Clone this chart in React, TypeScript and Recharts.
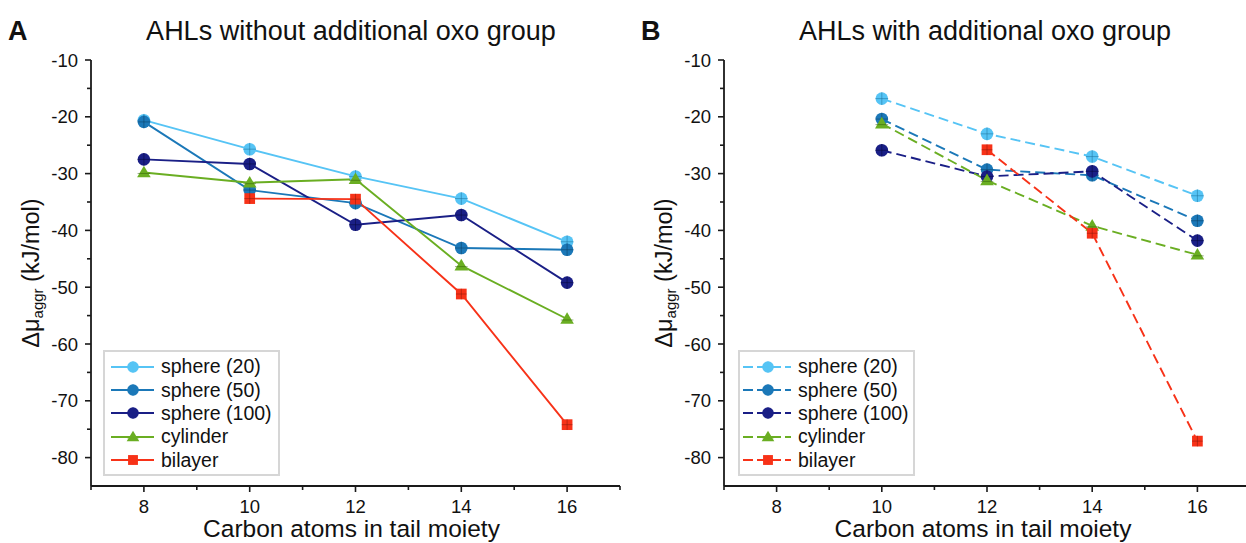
import React from 'react';
import { LineChart, Line, XAxis, YAxis, Legend } from 'recharts';

// panel A: AHLs without additional oxo group
const carbonA = [8, 10, 12, 14, 16];
const sphere20A = [-20.6, -25.7, -30.5, -34.4, -42.0];
const sphere50A = [-20.9, -32.9, -35.2, -43.1, -43.4];
const sphere100A = [-27.5, -28.3, -39.0, -37.3, -49.2];
const cylinderA = [-29.8, -31.6, -31.0, -46.2, -55.6];
const bilayerA = [null, -34.4, -34.5, -51.2, -74.2];

// panel B: AHLs with additional oxo group
const carbonB = [10, 12, 14, 16];
const sphere20B = [-16.8, -23.0, -27.0, -33.9];
const sphere50B = [-20.4, -29.3, -30.3, -38.3];
const sphere100B = [-25.9, -30.5, -29.6, -41.8];
const cylinderB = [-21.2, -31.2, -39.2, -44.3];
const bilayerB = [null, -25.8, -40.5, -77.1];

const xTicks = [7, 8, 9, 10, 11, 12, 13, 14, 15, 16, 17];
const yTicks = [-80, -75, -70, -65, -60, -55, -50, -45, -40, -35, -30, -25, -20, -15, -10];

const series = [
  { key: 's20', name: 'sphere (20)', color: '#56c4f5', dark: '#1c6f9a', shape: 'circle' },
  { key: 's50', name: 'sphere (50)', color: '#1b78b8', dark: '#0b3d60', shape: 'circle' },
  { key: 's100', name: 'sphere (100)', color: '#1a1f86', dark: '#06083a', shape: 'circle' },
  { key: 'cyl', name: 'cylinder', color: '#6aae22', dark: '#2f5a08', shape: 'triangle' },
  { key: 'bil', name: 'bilayer', color: '#f73218', dark: '#7a1608', shape: 'square' },
];

const rowsA = carbonA.map((c, i) => ({
  carbon: c,
  s20: sphere20A[i],
  s50: sphere50A[i],
  s100: sphere100A[i],
  cyl: cylinderA[i],
  bil: bilayerA[i],
}));

const rowsB = carbonB.map((c, i) => ({
  carbon: c,
  s20: sphere20B[i],
  s50: sphere50B[i],
  s100: sphere100B[i],
  cyl: cylinderB[i],
  bil: bilayerB[i],
}));

const FONT = '"Liberation Sans", Arial, sans-serif';
const AXIS = '#1a1a1a';
const TOP = 60;
const X_AXIS_H = 57;
const CH_H = 543;
const CH_W = 640;
const AXIS_Y = CH_H - X_AXIS_H;

const Shape = ({ cx, cy, shape, color, dark, r = 6.3 }: any) => {
  if (shape === 'triangle') {
    const pts = `${cx},${cy - r - 0.5} ${cx - r - 0.5},${cy + r - 1.5} ${cx + r + 0.5},${cy + r - 1.5}`;
    return (
      <g>
        <polygon points={pts} fill={color} />
        <line x1={cx - r} x2={cx + r} y1={cy + 1} y2={cy + 1} stroke={dark} strokeOpacity={0.5} />
      </g>
    );
  }
  if (shape === 'square') {
    const s = r * 0.85;
    return (
      <g>
        <rect x={cx - s} y={cy - s} width={2 * s} height={2 * s} fill={color} />
        <line x1={cx - s} x2={cx + s} y1={cy} y2={cy} stroke={dark} strokeOpacity={0.45} />
        <line x1={cx} x2={cx} y1={cy - s} y2={cy + s} stroke={dark} strokeOpacity={0.45} />
      </g>
    );
  }
  return (
    <g>
      <circle cx={cx} cy={cy} r={r} fill={color} />
      <line x1={cx - r} x2={cx + r} y1={cy} y2={cy} stroke={dark} strokeOpacity={0.5} />
      <line x1={cx} x2={cx} y1={cy - r} y2={cy + r} stroke={dark} strokeOpacity={0.5} />
    </g>
  );
};

const makeYTick = (axisX: number) => (props: any) => {
  const { y, payload } = props;
  const major = payload.value % 10 === 0;
  return (
    <g>
      <line x1={axisX} x2={axisX - (major ? 6 : 4)} y1={y} y2={y} stroke={AXIS} strokeWidth={1.6} />
      {major && (
        <text x={axisX - 13} y={y} dy="0.36em" textAnchor="end" fontSize={18.5} fontFamily={FONT} fill="#111">
          {payload.value}
        </text>
      )}
    </g>
  );
};

const XTick = (props: any) => {
  const { x, payload } = props;
  const major = payload.value % 2 === 0;
  return (
    <g>
      <line x1={x} x2={x} y1={AXIS_Y} y2={AXIS_Y + (major ? 6 : 4)} stroke={AXIS} strokeWidth={1.6} />
      {major && (
        <text x={x} y={AXIS_Y + 27} textAnchor="middle" fontSize={18.5} fontFamily={FONT} fill="#111">
          {payload.value}
        </text>
      )}
    </g>
  );
};

const YLabel = (props: any) => {
  const { viewBox } = props;
  const cx = viewBox.x + viewBox.width - 60;
  const cy = viewBox.y + viewBox.height / 2;
  return (
    <text
      x={cx}
      y={cy}
      transform={`rotate(-90 ${cx} ${cy})`}
      textAnchor="middle"
      dominantBaseline="central"
      fontSize={23.5}
      fontFamily={FONT}
      fill="#111"
    >
      Δμ
      <tspan fontSize={15} dy={6}>aggr</tspan>
      <tspan dy={-6}> (kJ/mol)</tspan>
    </text>
  );
};

const XLabel = (props: any) => {
  const { viewBox } = props;
  return (
    <text
      x={viewBox.x + viewBox.width / 2 - 4}
      y={viewBox.y + 51}
      textAnchor="middle"
      fontSize={24.5}
      fontFamily={FONT}
      fill="#111"
    >
      Carbon atoms in tail moiety
    </text>
  );
};

const LegendBox = ({ dashed }: { dashed: boolean }) => (
  <div
    style={{
      width: 173,
      height: 119,
      border: '2px solid #d6d6d6',
      background: '#fff',
      padding: '3px 0 0 0',
      fontFamily: FONT,
    }}
  >
    {series.map((s) => (
      <div key={s.key} style={{ display: 'flex', alignItems: 'center', height: 23.4 }}>
        <svg width={dashed ? 54 : 52} height={16} style={{ display: 'block' }}>
          <line
            x1={dashed ? 3 : 6}
            x2={dashed ? 51 : 49}
            y1={8}
            y2={8}
            stroke={s.color}
            strokeWidth={2}
            strokeDasharray={dashed ? '10 4' : undefined}
          />
          <Shape cx={28} cy={8} shape={s.shape} color={s.color} dark={s.color} r={5.8} />
        </svg>
        <span style={{ fontSize: 19.5, color: '#111', marginLeft: 4, whiteSpace: 'nowrap' }}>{s.name}</span>
      </div>
    ))}
  </div>
);

const Panel = ({ rows, yAxisW, dashed, legendLeft }: any) => (
  <LineChart width={CH_W} height={CH_H} data={rows} margin={{ top: TOP, right: 20, bottom: 0, left: 0 }}>
    <XAxis
      dataKey="carbon"
      type="number"
      domain={[7, 17]}
      ticks={xTicks}
      interval={0}
      height={X_AXIS_H}
      axisLine={{ stroke: AXIS, strokeWidth: 1.8 }}
      tickLine={false}
      tick={<XTick />}
      label={<XLabel />}
    />
    <YAxis
      type="number"
      domain={[-85, -10]}
      ticks={yTicks}
      interval={0}
      width={yAxisW}
      axisLine={{ stroke: AXIS, strokeWidth: 1.8 }}
      tickLine={false}
      tick={makeYTick(yAxisW)}
      label={<YLabel />}
    />
    <Legend
      layout="vertical"
      align="center"
      verticalAlign="middle"
      content={() => <LegendBox dashed={dashed} />}
      wrapperStyle={{ left: legendLeft, top: 350, width: 'auto', height: 'auto', margin: 0 }}
    />
    {series.map((s) => (
      <Line
        key={s.key}
        dataKey={s.key}
        name={s.name}
        stroke={s.color}
        strokeWidth={1.9}
        strokeDasharray={dashed ? '10 5' : undefined}
        isAnimationActive={false}
        connectNulls={false}
        dot={(p: any) =>
          p.cy == null ? (
            <g key={`${s.key}-${p.index}`} />
          ) : (
            <Shape key={`${s.key}-${p.index}`} cx={p.cx} cy={p.cy} shape={s.shape} color={s.color} dark={s.dark} />
          )
        }
        activeDot={false}
      />
    ))}
  </LineChart>
);

const titleStyle: React.CSSProperties = {
  position: 'absolute',
  top: 18,
  fontSize: 27,
  lineHeight: '27px',
  fontFamily: FONT,
  color: '#111',
  whiteSpace: 'nowrap',
};

export default function App() {
  return (
    <div
      style={{
        position: 'absolute',
        left: 0,
        top: 0,
        width: 1246,
        height: 543,
        overflow: 'hidden',
        background: '#fff',
      }}
    >
      <div style={{ position: 'absolute', left: 0, top: 0 }}>
        <Panel rows={rowsA} yAxisW={91} dashed={false} legendLeft={103} />
      </div>
      <div style={{ position: 'absolute', left: 630, top: 0 }}>
        <Panel rows={rowsB} yAxisW={94} dashed={true} legendLeft={108} />
      </div>
      <div style={{ ...titleStyle, left: 8, fontWeight: 'bold' }}>A</div>
      <div style={{ ...titleStyle, left: 351, transform: 'translateX(-50%)' }}>AHLs without additional oxo group</div>
      <div style={{ ...titleStyle, left: 641, fontWeight: 'bold' }}>B</div>
      <div style={{ ...titleStyle, left: 985, transform: 'translateX(-50%)' }}>AHLs with additional oxo group</div>
    </div>
  );
}
